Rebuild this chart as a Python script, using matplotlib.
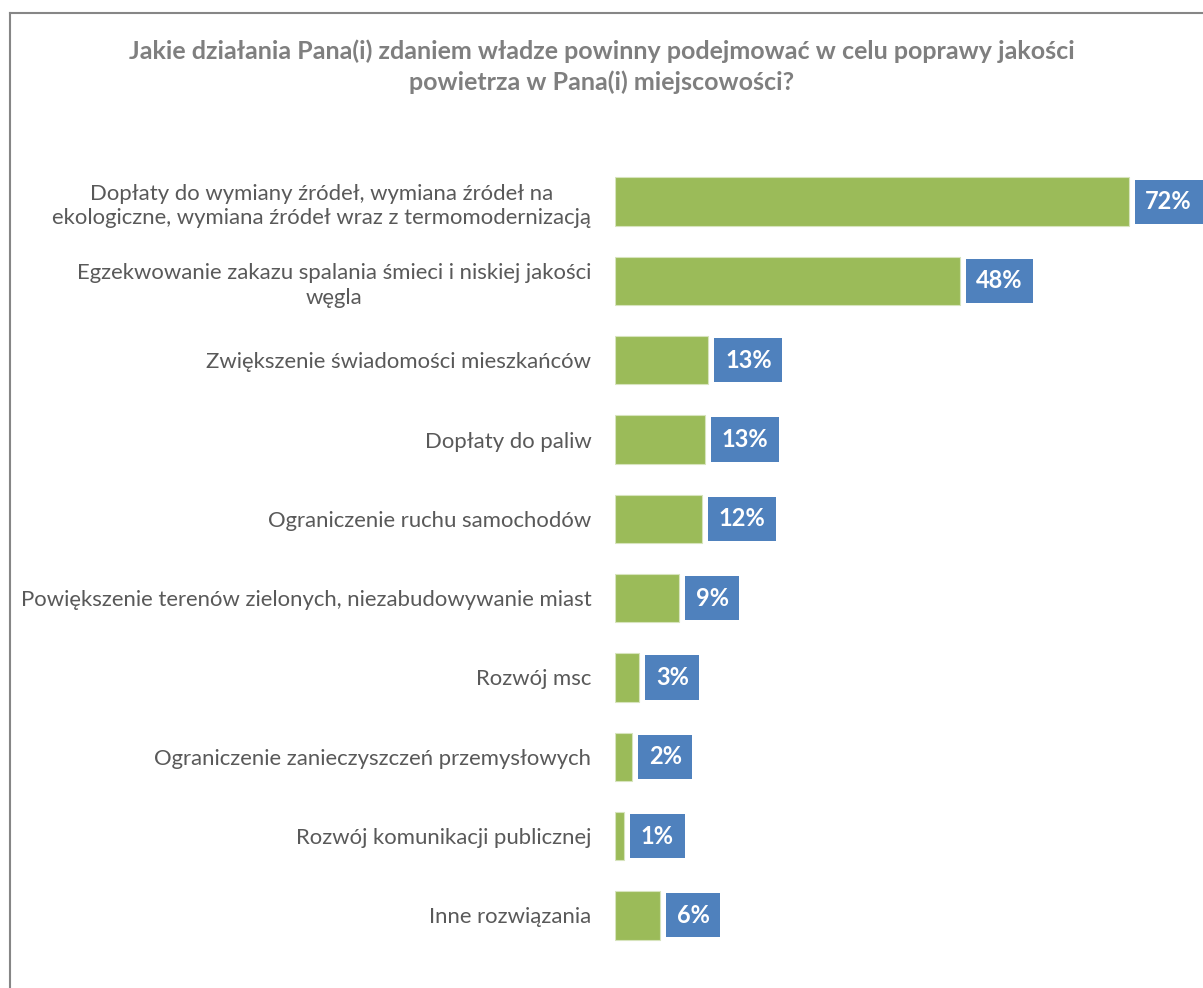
import matplotlib
matplotlib.use("Agg")
import matplotlib.pyplot as plt
from matplotlib.lines import Line2D

plt.rcParams['font.family'] = ['Lato', 'DejaVu Sans']

categories = [
    "Dopłaty do wymiany źródeł, wymiana źródeł na\nekologiczne, wymiana źródeł wraz z termomodernizacją",
    "Egzekwowanie zakazu spalania śmieci i niskiej jakości\nwęgla",
    "Zwiększenie świadomości mieszkańców",
    "Dopłaty do paliw",
    "Ograniczenie ruchu samochodów",
    "Powiększenie terenów zielonych, niezabudowywanie miast",
    "Rozwój msc",
    "Ograniczenie zanieczyszczeń przemysłowych",
    "Rozwój komunikacji publicznej",
    "Inne rozwiązania",
]
values = [72.0, 48.3, 13.1, 12.6, 12.2, 9.0, 3.4, 2.4, 1.3, 6.3]

title = ("Jakie działania Pana(i) zdaniem władze powinny podejmować w celu poprawy jakości\n"
         "powietrza w Pana(i) miejscowości?")

GREEN = "#9BBB59"
BLUE = "#4F81BD"
TEXT = "#595959"

fig = plt.figure(figsize=(12.03, 9.88), dpi=100)
ax = fig.add_axes([615 / 1203, 1 - 955 / 988, 575 / 1203, 793 / 988])

ypos = list(range(len(values)))
ax.barh(ypos, values, height=0.61, color=GREEN, edgecolor="#D7E4BD", linewidth=0.8)

# blue value boxes to the right of each bar
for y, v in zip(ypos, values):
    ax.annotate(f"{v:.0f}%", xy=(v, y), xytext=(12, 0), textcoords="offset points",
                ha="left", va="center", color="white", fontsize=17, fontweight="bold",
                bbox=dict(boxstyle="square,pad=0.45", facecolor=BLUE, edgecolor="none"))

ax.set_xlim(0, 80.6)
ax.set_ylim(len(values) - 0.5, -0.5)
ax.set_yticks(ypos)
ax.set_yticklabels(categories, fontsize=15.9, color=TEXT)
for t in ax.get_yticklabels():
    t.set_multialignment("center")
    t.set_linespacing(1.3)
ax.tick_params(axis="y", length=0, pad=17)
ax.set_xticks([])
for s in ax.spines.values():
    s.set_visible(False)

fig.text(0.5, 1 - 67 / 988, title, ha="center", va="center", fontsize=18,
         fontweight="bold", color="#7F7F7F", linespacing=1.4)

# chart frame (top and left edges visible in the crop)
fig.add_artist(Line2D([10 / 1203, 10 / 1203], [0, 1 - 13 / 988], transform=fig.transFigure,
                      color="#868686", linewidth=1.5))
fig.add_artist(Line2D([10 / 1203, 1.0], [1 - 13 / 988, 1 - 13 / 988], transform=fig.transFigure,
                      color="#868686", linewidth=1.5))

fig.savefig("out.png", dpi=100, facecolor="white")
